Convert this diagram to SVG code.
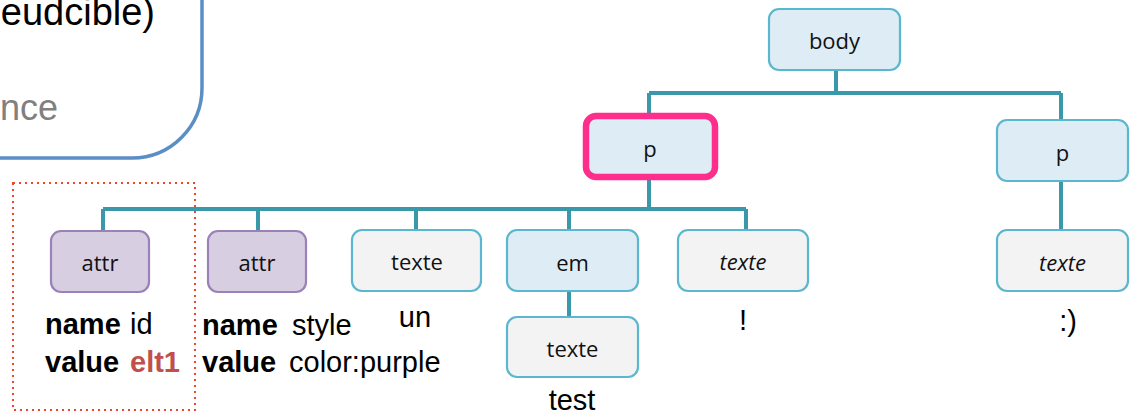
<svg xmlns="http://www.w3.org/2000/svg" width="1134" height="414" viewBox="0 0 1134 414">
  <style>
    .node rect { stroke-width: 2.2; }
    .el rect { fill: #deedf5; stroke: #5bb7cf; }
    .tx rect { fill: #f3f3f3; stroke: #5bb7cf; }
    .at rect { fill: #d7cee2; stroke: #9a82b8; }
    .sel rect { fill: #deedf5; stroke: #ff2d8c; stroke-width: 6.5; }
    .node text { font-family: "Open Sans", "Liberation Sans", sans-serif; font-size: 22px; fill: #111; text-anchor: middle; }
    .node text.it { font-style: italic; }
    .link { fill: none; stroke: #3a98ab; stroke-width: 4; }
    .body { font-family: "Liberation Sans", Arial, sans-serif; font-size: 29px; fill: #000; }
    .b { font-weight: bold; }
  </style>

  <!-- callout panel, partly off-canvas -->
  <g id="panel">
    <rect x="-100" y="-100" width="302" height="258" rx="70" ry="70" fill="#fff" stroke="#5b8ec6" stroke-width="3.5"/>
    <text x="155" y="25" text-anchor="end" font-family="Liberation Sans, Arial, sans-serif" font-size="38" fill="#000">eudcible)</text>
    <text x="58" y="120" text-anchor="end" font-family="Liberation Sans, Arial, sans-serif" font-size="36" fill="#808080">nce</text>
  </g>

  <!-- dotted highlight around the first attribute -->
  <rect id="attr-highlight" x="13" y="183" width="182" height="227" fill="none" stroke="#f0442c" stroke-width="2" stroke-dasharray="2 4"/>

  <g id="connectors">
    <path class="link" d="M836 70 V93 M649 93 H1061 M649 93 V113 M1061 93 V120"/>
    <path class="link" d="M649 180 V209 M103 209 H746 M103 209 V231 M258 209 V231 M416 209 V230 M569 209 V230 M746 209 V230"/>
    <path class="link" d="M569 291 V317 M1061 181 V230"/>
  </g>

  <g id="n-body" class="node el">
    <rect x="769" y="9" width="131" height="61" rx="10"/>
    <text x="834.5" y="49">body</text>
  </g>
  <g id="n-p1" class="node sel">
    <rect x="586" y="116" width="129" height="61" rx="10"/>
    <text x="650" y="157">p</text>
  </g>
  <g id="n-p2" class="node el">
    <rect x="997" y="120" width="131" height="61" rx="10"/>
    <text x="1062.5" y="161">p</text>
  </g>
  <g id="n-attr1" class="node at">
    <rect x="51" y="231" width="98" height="61" rx="10"/>
    <text x="100" y="271">attr</text>
  </g>
  <g id="n-attr2" class="node at">
    <rect x="208" y="231" width="98" height="61" rx="10"/>
    <text x="257" y="271">attr</text>
  </g>
  <g id="n-texte1" class="node tx">
    <rect x="352" y="230" width="129" height="61" rx="10"/>
    <text x="417" y="270">texte</text>
  </g>
  <g id="n-em" class="node el">
    <rect x="507" y="230" width="131" height="61" rx="10"/>
    <text x="572.5" y="271">em</text>
  </g>
  <g id="n-texte2" class="node tx">
    <rect x="507" y="317" width="131" height="60" rx="10"/>
    <text x="572.5" y="357">texte</text>
  </g>
  <g id="n-texte3" class="node tx">
    <rect x="678" y="230" width="130" height="61" rx="10"/>
    <text class="it" x="743" y="270">texte</text>
  </g>
  <g id="n-texte4" class="node tx">
    <rect x="997" y="230" width="131" height="61" rx="10"/>
    <text class="it" x="1062.5" y="271">texte</text>
  </g>

  <!-- values shown under the nodes -->
  <g id="labels" class="body">
    <text x="45" y="334" class="b">name</text>
    <text x="130" y="334">id</text>
    <text x="45" y="372" class="b">value</text>
    <text x="130" y="372" class="b" fill="#c0504d">elt1</text>
    <text x="202" y="335" class="b">name</text>
    <text x="292" y="335">style</text>
    <text x="202" y="372" class="b">value</text>
    <text x="289" y="372">color:purple</text>
    <text x="415" y="327" text-anchor="middle">un</text>
    <text x="572" y="410" text-anchor="middle">test</text>
    <text x="743" y="330" text-anchor="middle">!</text>
    <text x="1068" y="331" text-anchor="middle">:)</text>
  </g>
</svg>
